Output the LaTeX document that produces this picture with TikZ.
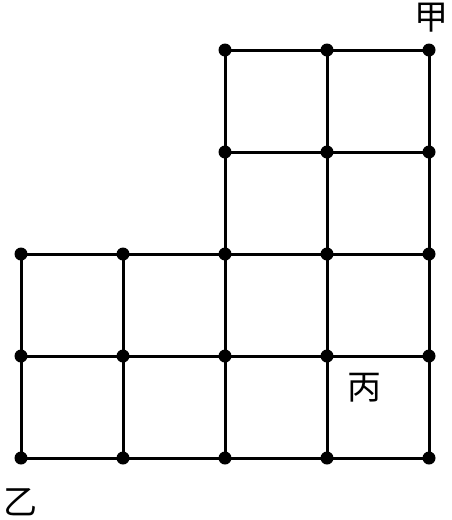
\documentclass[tikz,border=0pt]{standalone}
\usepackage{fontspec}
\newfontfamily\cjk{Noto Sans CJK SC}
\begin{document}
\begin{tikzpicture}[x=1pt,y=-1pt,
  edge/.style={line width=3pt},
  dot/.style={circle,fill=black,inner sep=0pt,minimum size=13pt},
  lab/.style={font=\cjk\fontsize{34}{34}\selectfont,inner sep=0pt}]
\useasboundingbox (0,0) rectangle (451,520);
% coordinates
\foreach \i/\x in {0/21,1/123,2/225,3/327,4/429}{
  \foreach \j/\y in {0/50,1/152,2/254,3/356,4/458}{
    \coordinate (p\i\j) at (\x,\y);
  }
}
% lines
\draw[edge] (p20) -- (p40);
\draw[edge] (p21) -- (p41);
\draw[edge] (p02) -- (p42);
\draw[edge] (p03) -- (p43);
\draw[edge] (p04) -- (p44);
\draw[edge] (p02) -- (p04);
\draw[edge] (p12) -- (p14);
\draw[edge] (p20) -- (p24);
\draw[edge] (p30) -- (p34);
\draw[edge] (p40) -- (p44);
% dots
\foreach \i in {2,3,4}{\foreach \j in {0,1}{\node[dot] (d\i\j) at (p\i\j) {};}}
\foreach \i in {0,1,2,3,4}{\foreach \j in {2,3,4}{\node[dot] (d\i\j) at (p\i\j) {};}}
% labels
\node[lab] (jia) at (431,18) {甲};
\node[lab] (yi) at (20,502) {乙};
\node[lab] (bing) at (364,388) {丙};
\end{tikzpicture}
\end{document}
